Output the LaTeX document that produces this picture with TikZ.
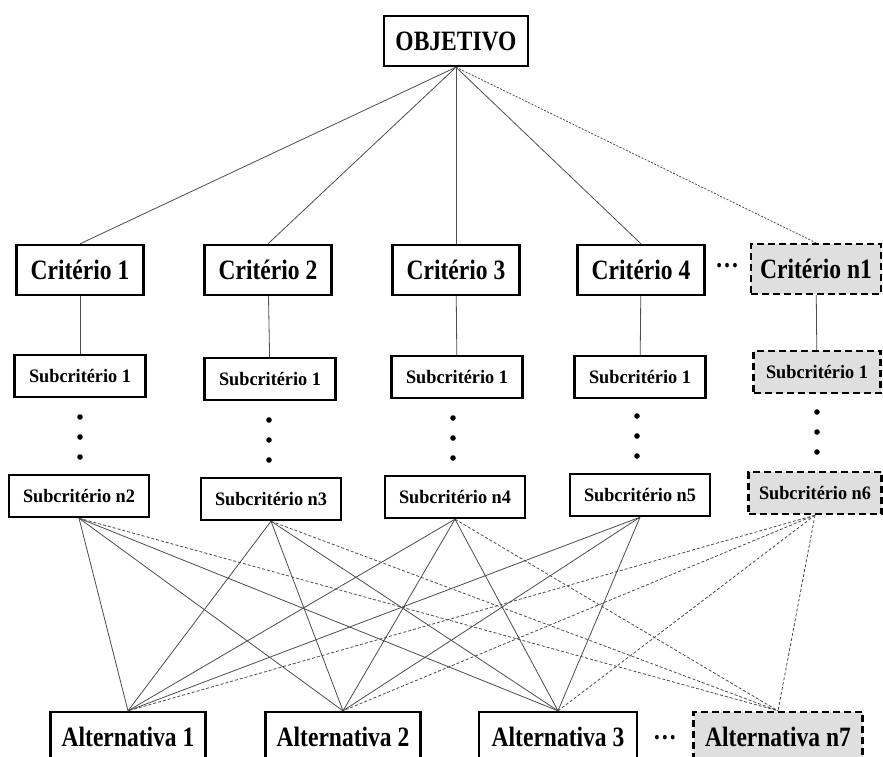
\documentclass[tikz,border=0pt]{standalone}
\usepackage{fontspec}
\setmainfont{Liberation Serif}
\usepackage{tikz}

\newcommand{\squeeze}[2][0.84]{\scalebox{#1}[1]{#2}}

\tikzset{
	box/.style={draw,line width=2.4pt,inner sep=0pt,minimum width=127pt,minimum height=50pt,
		font=\bfseries\fontsize{28}{28}\selectfont},
	subbox/.style={box,minimum width=131pt,minimum height=42pt,font=\bfseries\fontsize{19}{19}\selectfont},
	optbox/.style={fill=gray!25,dash pattern=on 7pt off 4pt},
	link/.style={draw=black!70,line width=0.8pt},
	optlink/.style={link,dash pattern=on 3pt off 2pt}
}

\begin{document}
\begin{tikzpicture}[x=1pt,y=-1pt]
		\useasboundingbox (0,0) rectangle (883,756);
		% objetivo e criterios
		\node[box,minimum width=144pt] (obj) at (456,41) {\squeeze{OBJETIVO}};
		\node[box] (c1) at (80,270) {\squeeze{Critério 1}};
		\node[box] (c2) at (268,270) {\squeeze{Critério 2}};
		\node[box] (c3) at (456,270) {\squeeze{Critério 3}};
		\node[box] (c4) at (641,270) {\squeeze{Critério 4}};
		\node[box,optbox,minimum width=130pt] (cn) at (816,269) {\squeeze{Critério n1}};
		\node[font=\bfseries\fontsize{28}{28}\selectfont] (hdots1) at (727,266) {\squeeze{…}};
		% subcriterios
		\node[subbox] (s1) at (80,376) {\squeeze[0.96]{Subcritério 1}};
		\node[subbox] (s2) at (270,379) {\squeeze[0.96]{Subcritério 1}};
		\node[subbox] (s3) at (457,377) {\squeeze[0.96]{Subcritério 1}};
		\node[subbox] (s4) at (640,377) {\squeeze[0.96]{Subcritério 1}};
		\node[subbox,optbox,minimum width=127pt] (s5) at (817,372) {\squeeze[0.96]{Subcritério 1}};
		\node[subbox,minimum width=140pt] (sn2) at (79,496) {\squeeze[0.96]{Subcritério n2}};
		\node[subbox,minimum width=140pt] (sn3) at (271,499) {\squeeze[0.96]{Subcritério n3}};
		\node[subbox,minimum width=140pt] (sn4) at (455,497) {\squeeze[0.96]{Subcritério n4}};
		\node[subbox,minimum width=140pt] (sn5) at (640,495) {\squeeze[0.96]{Subcritério n5}};
		\node[subbox,optbox,minimum width=133pt] (sn6) at (815,493) {\squeeze[0.96]{Subcritério n6}};
		\foreach \x/\y in {80/417,269/420,453/418,637/416,817/412}
			\foreach \d in {0,20,40}
				\fill (\x,\y+\d) circle (2.8pt);
		% alternativas
		\node[box,minimum width=155pt] (a1) at (128,737) {\squeeze{Alternativa 1}};
		\node[box,minimum width=155pt] (a2) at (343,737) {\squeeze{Alternativa 2}};
		\node[box,minimum width=158pt] (a3) at (558,737) {\squeeze{Alternativa 3}};
		\node[box,optbox,minimum width=169pt] (an) at (778,737) {\squeeze{Alternativa n7}};
		\node[font=\bfseries\fontsize{28}{28}\selectfont] (hdots2) at (665,738) {\squeeze{…}};
		% ligacoes
		\foreach \c in {c1,c2,c3,c4}
			\draw[link] (obj.south) -- (\c.north);
		\draw[link,dash pattern=on 2pt off 1.5pt] (obj.south) -- (cn.north);
		\foreach \c/\s in {c1/s1,c2/s2,c3/s3,c4/s4,cn/s5}
			\draw[link] (\c) -- (\s);
		\foreach \s in {sn2,sn3,sn4,sn5}
			\foreach \a in {a1,a2,a3}
				\draw[link] (\s.south) -- (\a.north);
		\foreach \s in {sn2,sn3,sn4}
			\draw[optlink] (\s.south) -- (an.north);
		\foreach \a in {a1,a2,a3,an}
			\draw[optlink] (sn6.south) -- (\a.north);
\end{tikzpicture}
\end{document}
